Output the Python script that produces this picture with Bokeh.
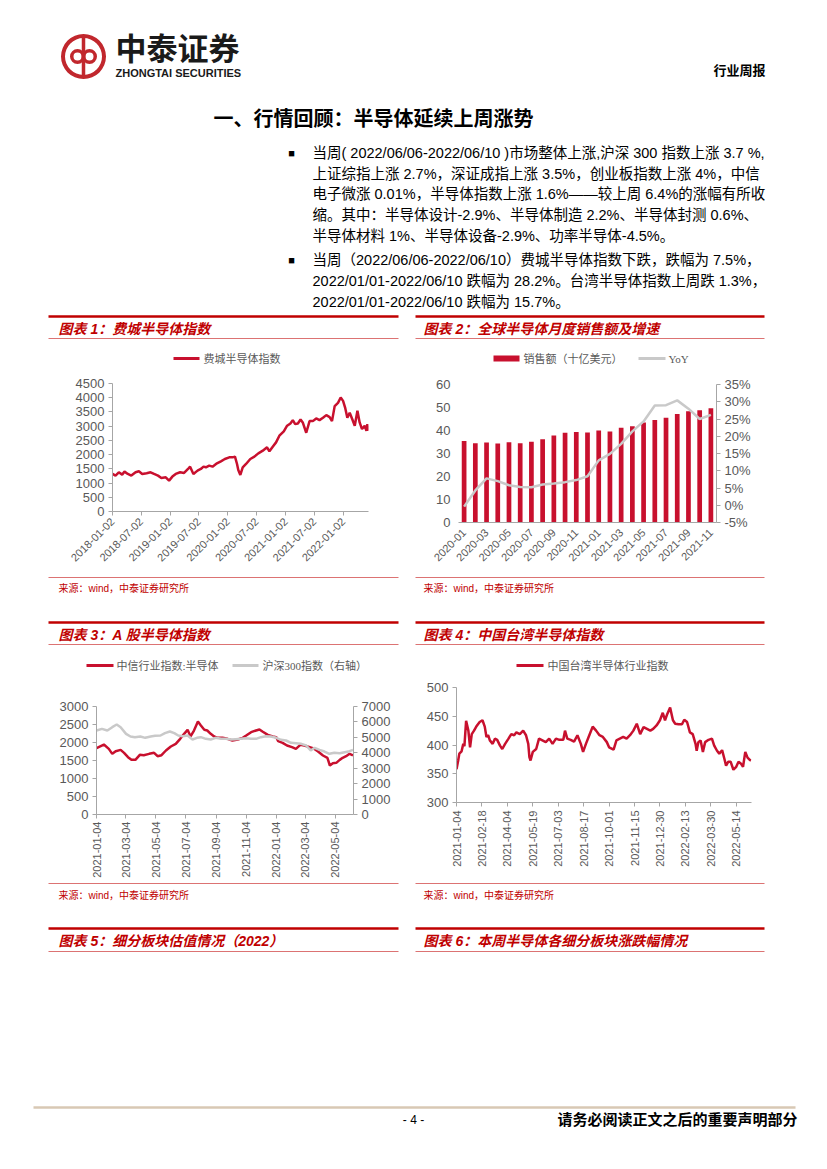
import pandas as pd
from math import pi
from bokeh.plotting import figure
from bokeh.layouts import column, row
from bokeh.models import (Range1d, LinearAxis, FixedTicker, DatetimeTickFormatter,
                          PrintfTickFormatter)
from bokeh.core.properties import value
from bokeh.embed import file_html
from bokeh.resources import INLINE

# ---------------- data ----------------
c1_dates = ["2018-01-02","2018-01-21","2018-02-11","2018-03-04","2018-03-19","2018-04-09","2018-05-01",
            "2018-05-28","2018-06-18","2018-07-09","2018-08-06","2018-08-31","2018-09-22","2018-10-17",
            "2018-11-07","2018-12-05","2018-12-26",
            "2019-01-16","2019-02-06","2019-03-06","2019-03-31","2019-04-25","2019-05-08","2019-05-29",
            "2019-06-24","2019-07-15","2019-08-01","2019-08-16","2019-09-06","2019-09-27","2019-10-25",
            "2019-11-19","2019-12-14",
            "2020-01-11","2020-02-01","2020-02-16","2020-02-29","2020-03-08","2020-03-21","2020-04-05",
            "2020-04-26","2020-05-23","2020-06-18","2020-07-13","2020-08-10","2020-09-06","2020-09-21",
            "2020-10-12","2020-11-02","2020-11-23","2020-12-21",
            "2021-01-11","2021-02-01","2021-02-16","2021-03-03","2021-03-20","2021-04-06","2021-04-21",
            "2021-05-12","2021-06-02","2021-06-23","2021-07-14","2021-08-04","2021-08-26","2021-09-16",
            "2021-10-07","2021-10-22","2021-11-08","2021-11-29","2021-12-16","2021-12-31",
            "2022-01-14","2022-01-27","2022-02-11","2022-02-28","2022-03-15","2022-04-01","2022-04-15",
            "2022-04-30","2022-05-17","2022-05-28","2022-06-03","2022-06-10"]
c1_values = [1320,1262,1379,1297,1402,1320,1262,1379,1414,1320,1344,1379,1320,1262,1180,1203,1086,
             1227,1320,1379,1355,1495,1577,1320,1437,1495,1577,1554,1612,1577,1694,1764,1846,
             1904,1904,1928,1671,1460,1285,1554,1671,1846,1928,2045,2138,2255,2115,2278,2430,2664,2816,
             3015,3096,3213,3072,3096,3236,3119,2768,3178,3178,3271,3213,3294,3388,3318,3178,3704,3820,4007,3890,
             3633,3294,3470,3236,3015,3540,3131,2898,3015,2840,3072,2840]
c1_ticks = ["2018-01-02","2018-07-02","2019-01-02","2019-07-02","2020-01-02","2020-07-02",
            "2021-01-02","2021-07-02","2022-01-02"]

c2_months = ["2020-01","2020-02","2020-03","2020-04","2020-05","2020-06","2020-07","2020-08","2020-09",
             "2020-10","2020-11","2020-12","2021-01","2021-02","2021-03","2021-04","2021-05","2021-06",
             "2021-07","2021-08","2021-09","2021-10","2021-11"]
c2_sales = [35.4,34.5,34.8,34.3,34.9,34.5,35.1,36.2,37.8,39.0,39.4,39.1,40.0,39.6,41.2,41.9,43.5,44.6,
            45.5,47.2,48.4,48.8,49.7]
c2_yoy = [-0.4,4.3,7.8,7.0,5.8,5.3,5.2,6.0,6.3,6.7,7.3,8.4,13.0,14.9,17.8,21.4,24.3,28.9,29.0,30.4,
          28.0,25.0,26.2]

c3_dates = ["2021-01-04","2021-01-19","2021-01-29","2021-02-05","2021-02-12","2021-02-22","2021-03-01",
            "2021-03-09","2021-03-16","2021-03-24","2021-04-02","2021-04-10","2021-04-21","2021-05-01",
            "2021-05-08","2021-05-16","2021-05-25","2021-06-04","2021-06-14","2021-06-23","2021-07-01",
            "2021-07-08","2021-07-14","2021-07-21","2021-07-29","2021-08-04","2021-08-11","2021-08-17",
            "2021-08-24","2021-08-31","2021-09-07","2021-09-17","2021-09-27","2021-10-07","2021-10-18",
            "2021-10-28","2021-11-04","2021-11-14","2021-11-24","2021-12-01","2021-12-07","2021-12-18",
            "2021-12-28","2022-01-04","2022-01-08","2022-01-17","2022-01-26","2022-02-05","2022-02-13",
            "2022-02-22","2022-03-02","2022-03-13","2022-03-21","2022-03-30","2022-04-09","2022-04-18",
            "2022-04-23","2022-04-29","2022-05-06","2022-05-13","2022-05-19","2022-05-26","2022-06-02",
            "2022-06-09"]
c3_semi = [1843,1944,1824,1685,1759,1796,1713,1593,1518,1518,1657,1648,1685,1713,1620,1648,1778,1889,
           1963,2102,2241,2352,2167,2333,2583,2472,2352,2333,2241,2167,2130,2130,2102,2056,2083,2130,
           2194,2287,2333,2361,2306,2213,2167,2148,2037,1991,1917,1870,1824,1935,1917,1870,1833,1750,
           1639,1574,1361,1426,1435,1518,1574,1620,1685,1639]
c3_hs_dates = ["2021-01-04","2021-01-15","2021-01-26","2021-02-05","2021-02-14","2021-02-22","2021-03-05",
               "2021-03-14","2021-03-23","2021-04-03","2021-04-13","2021-04-24","2021-05-03","2021-05-14",
               "2021-05-23","2021-06-02","2021-06-11","2021-06-19","2021-06-28","2021-07-08","2021-07-18",
               "2021-07-27","2021-08-04","2021-08-14","2021-08-24","2021-09-03","2021-09-14","2021-09-24",
               "2021-10-04","2021-10-14","2021-10-24","2021-11-03","2021-11-14","2021-11-24","2021-12-04",
               "2021-12-14","2021-12-24","2022-01-04","2022-01-14","2022-01-24","2022-02-03","2022-02-13",
               "2022-02-24","2022-03-06","2022-03-15","2022-03-23","2022-04-02","2022-04-12","2022-04-22",
               "2022-05-02","2022-05-13","2022-05-23","2022-06-02","2022-06-09"]
c3_hs300 = [5444,5552,5444,5660,5833,5660,5228,5055,5012,5055,4969,5055,5098,5120,5271,5379,5271,5120,
            5077,5120,4861,4969,5012,4904,4861,4969,4904,4904,4861,4883,4904,4947,4904,4904,5012,5077,
            5055,4969,4839,4796,4645,4623,4580,4472,4148,4321,4191,4083,3932,3997,3975,4040,4105,4191]
c3_ticks = ["2021-01-04","2021-03-04","2021-05-04","2021-07-04","2021-09-04","2021-11-04",
            "2022-01-04","2022-03-04","2022-05-04"]

c4_dates = ["2021-01-04","2021-01-07","2021-01-09","2021-01-13","2021-01-16","2021-01-18","2021-01-21",
            "2021-01-25","2021-01-28","2021-01-31","2021-02-04","2021-02-08","2021-02-14","2021-02-19",
            "2021-02-23","2021-02-26","2021-03-01","2021-03-04","2021-03-09","2021-03-13","2021-03-17",
            "2021-03-22","2021-03-26","2021-03-31","2021-04-06","2021-04-11","2021-04-16","2021-04-20",
            "2021-04-26","2021-05-02","2021-05-07","2021-05-11","2021-05-13","2021-05-15","2021-05-19",
            "2021-05-25","2021-05-30","2021-06-05","2021-06-11","2021-06-17","2021-06-23","2021-06-29",
            "2021-07-05","2021-07-12","2021-07-15","2021-07-19","2021-07-25","2021-07-31","2021-08-06",
            "2021-08-12","2021-08-16","2021-08-21","2021-08-27","2021-09-02","2021-09-08","2021-09-14",
            "2021-09-20","2021-09-27","2021-10-01","2021-10-09","2021-10-14","2021-10-20","2021-10-26",
            "2021-11-01","2021-11-07","2021-11-13","2021-11-19","2021-11-25","2021-12-01","2021-12-07",
            "2021-12-13","2021-12-18","2021-12-24","2021-12-30","2022-01-04","2022-01-08","2022-01-12",
            "2022-01-17","2022-01-22","2022-01-26","2022-02-01","2022-02-07","2022-02-11","2022-02-16",
            "2022-02-21","2022-02-26","2022-03-03","2022-03-05","2022-03-08","2022-03-12","2022-03-16",
            "2022-03-20","2022-03-26","2022-04-01","2022-04-05","2022-04-10","2022-04-14","2022-04-19",
            "2022-04-23","2022-04-26","2022-04-30","2022-05-04","2022-05-09","2022-05-14","2022-05-18",
            "2022-05-22","2022-05-26","2022-05-30","2022-06-03","2022-06-07","2022-06-09"]
c4_values = [358,373,385,389,402,398,442,425,396,419,425,432,440,443,432,414,417,408,402,411,409,
             399,393,402,411,419,417,422,419,425,417,402,379,373,388,393,411,408,405,411,402,411,
             409,409,425,411,409,406,417,402,388,402,417,432,425,417,414,405,396,392,408,411,414,
             411,417,425,437,419,431,428,425,428,434,443,456,443,454,465,443,437,436,436,444,440,
             422,419,402,390,405,408,388,405,409,411,399,390,385,391,376,364,371,371,357,362,371,
             368,362,388,378,374,373]
c4_ticks = ["2021-01-04","2021-02-18","2021-04-04","2021-05-19","2021-07-03","2021-08-17","2021-10-01",
            "2021-11-15","2021-12-30","2022-02-13","2022-03-30","2022-05-14"]

body_lines = [
    "当周( 2022/06/06-2022/06/10 )市场整体上涨,沪深 300 指数上涨 3.7 %,",
    "上证综指上涨 2.7%，深证成指上涨 3.5%，创业板指数上涨 4%，中信",
    "电子微涨 0.01%，半导体指数上涨 1.6%——较上周 6.4%的涨幅有所收",
    "缩。其中：半导体设计-2.9%、半导体制造 2.2%、半导体封测 0.6%、",
    "半导体材料 1%、半导体设备-2.9%、功率半导体-4.5%。",
    "当周（2022/06/06-2022/06/10）费城半导体指数下跌，跌幅为 7.5%，",
    "2022/01/01-2022/06/10 跌幅为 28.2%。台湾半导体指数上周跌 1.3%，",
    "2022/01/01-2022/06/10 跌幅为 15.7%。",
]

# ---------------- styles ----------------
RED = "#C8102E"
TRED = "#C00000"
GRAY = "#C9C9C9"
AXC = "#A6A6A6"
TXC = "#595959"
SANS = "'Liberation Sans', 'Noto Sans CJK SC'"
SERIF = "'Liberation Serif', 'Noto Sans CJK SC'"
SOURCE = "来源：wind，中泰证券研究所"


def ms(lst):
    return [pd.Timestamp(s).value / 1e6 for s in lst]


def canvas(w, h):
    return figure(width=w, height=h, x_range=Range1d(0, w), y_range=Range1d(h, 0),
                  x_axis_type=None, y_axis_type=None, output_backend="svg",
                  toolbar_location=None, min_border=0, outline_line_color=None)


def T(p, x, y, s, size, color="#000000", font=SANS, style="normal", align="left"):
    p.text(x=[x], y=[y], text=[s], text_font=value(font), text_font_size=size,
           text_color=color, text_font_style=style, text_align=align, text_baseline="middle")


def L(p, x0, x1, y0, y1, color, w, alpha=1.0):
    p.segment(x0=[x0], y0=[y0], x1=[x1], y1=[y1], line_color=color, line_width=w, line_alpha=alpha)


def chart(w, h, l, r, t, b, xr, yr, xtype="linear"):
    p = figure(width=w, height=h, x_range=xr, y_range=yr, x_axis_type=xtype,
               output_backend="svg", toolbar_location=None, min_border_left=l,
               min_border_right=r, min_border_top=t, min_border_bottom=b,
               outline_line_color=None)
    p.grid.visible = False
    return p


def sty(ax, size="13px", line=True, ticks=True):
    ax.axis_line_color = AXC if line else None
    ax.major_tick_line_color = AXC if ticks else None
    ax.major_tick_out = 4
    ax.major_tick_in = 0
    ax.minor_tick_line_color = None
    ax.major_label_text_color = TXC
    ax.major_label_text_font = "Liberation Sans"
    ax.major_label_text_font_size = size
    ax.major_label_standoff = 4


def dtf():
    f = DatetimeTickFormatter(days="%Y-%m-%d", months="%Y-%m-%d", years="%Y-%m-%d")
    try:
        f.strip_leading_zeros = False
    except Exception:
        pass
    return f


def top_strip(w, h, x0, x1, ytop, title, tx):
    p = canvas(w, h)
    L(p, x0, x1, ytop, ytop, TRED, 2.5)
    T(p, tx, ytop + 12, title, "14px", TRED, SANS, "bold italic")
    L(p, x0, x1, ytop + 22, ytop + 22, TRED, 1, 0.55)
    return p


def bottom_strip(w, h, x0, x1, yline, tx, ysrc):
    p = canvas(w, h)
    L(p, x0, x1, yline, yline, TRED, 1, 0.55)
    T(p, tx, ysrc, SOURCE, "10px", TRED, SANS)
    return p


# ---------------- header ----------------
hdr = canvas(827, 312)
hdr.annulus(x=[83], y=[56], inner_radius=18.5, outer_radius=22.5, fill_color="#C1272D", line_color=None)
hdr.annulus(x=[77, 89], y=[56, 56], inner_radius=4, outer_radius=7.5, fill_color="#C1272D", line_color=None)
L(hdr, 83, 83, 36, 76, "#C1272D", 3.5)
T(hdr, 115, 49, "中泰证券", "31px", "#1A1A1A", SANS, "bold")
T(hdr, 115, 72, "ZHONGTAI SECURITIES", "11px", "#1A1A1A", SANS, "bold")
T(hdr, 765, 70, "行业周报", "13px", "#000000", SANS, "bold", "right")
T(hdr, 213, 118, "一、行情回顾：半导体延续上周涨势", "20px", "#000000", SANS, "bold")
line_y = [152, 173, 193, 214, 235, 259, 280, 301]
for s, yy in zip(body_lines, line_y):
    T(hdr, 312, yy, s, "14.5px", "#000000", SANS)
T(hdr, 291, 152, "■", "11px", "#000000", SANS, "normal", "center")
T(hdr, 291, 259, "■", "11px", "#000000", SANS, "normal", "center")

# ---------------- chart 1 ----------------
s1t = top_strip(410, 58, 48, 398, 4, "图表 1：费城半导体指数", 58)
L(s1t, 173, 199, 46, 46, RED, 3)
T(s1t, 203, 46, "费城半导体指数", "11px", TXC, SERIF)

c1 = chart(410, 202, 112, 42, 13, 61,
           Range1d(pd.Timestamp(c1_dates[0]), pd.Timestamp(c1_dates[-1])), Range1d(0, 4500), "datetime")
c1.line(pd.to_datetime(c1_dates), c1_values, line_color=RED, line_width=2.5)
xa = c1.xaxis[0]
xa.ticker = FixedTicker(ticks=ms(c1_ticks))
xa.formatter = dtf()
xa.major_label_orientation = pi / 4
sty(xa, "11px")
ya = c1.yaxis[0]
ya.ticker = FixedTicker(ticks=list(range(0, 4501, 500)))
sty(ya)
s1b = bottom_strip(410, 33, 48, 398, 5, 58, 16)

# ---------------- chart 2 ----------------
s2t = top_strip(417, 58, 5, 354, 4, "图表 2：全球半导体月度销售额及增速", 13)
s2t.quad(left=[83], right=[109], top=[43], bottom=[49], fill_color=RED, line_color=None)
T(s2t, 113, 46, "销售额（十亿美元）", "11px", TXC, SERIF)
L(s2t, 228, 255, 46, 46, GRAY, 3)
T(s2t, 258, 46, "YoY", "11px", TXC, SERIF)

xi = list(range(len(c2_months)))
c2 = chart(417, 202, 48, 111, 14, 50, Range1d(-0.5, len(c2_months) - 0.5), Range1d(0, 60))
c2.extra_y_ranges = {"yoy": Range1d(-5, 35)}
c2.vbar(x=xi, top=c2_sales, width=0.42, fill_color=RED, line_color=None)
c2.line(xi, c2_yoy, y_range_name="yoy", line_color=GRAY, line_width=2.5)
xa = c2.xaxis[0]
xa.ticker = FixedTicker(ticks=xi[::2])
xa.major_label_overrides = {i: c2_months[i] for i in xi[::2]}
xa.major_label_orientation = pi / 4
sty(xa, "11px", True, False)
ya = c2.yaxis[0]
ya.ticker = FixedTicker(ticks=list(range(0, 61, 10)))
sty(ya, "13px", False, False)
ra = LinearAxis(y_range_name="yoy", ticker=FixedTicker(ticks=list(range(-5, 36, 5))),
                formatter=PrintfTickFormatter(format="%d%%"))
sty(ra)
c2.add_layout(ra, "right")
s2b = bottom_strip(417, 33, 5, 354, 5, 13, 16)

# ---------------- chart 3 ----------------
s3t = top_strip(410, 90, 48, 398, 17, "图表 3：A 股半导体指数", 58)
L(s3t, 86, 113, 60, 60, RED, 3)
T(s3t, 116, 60, "中信行业指数:半导体", "11px", TXC, SERIF)
L(s3t, 232, 258, 60, 60, GRAY, 3)
T(s3t, 262, 60, "沪深300指数（右轴）", "11px", TXC, SERIF)

c3 = chart(410, 185, 96, 57, 11, 66,
           Range1d(pd.Timestamp(c3_dates[0]), pd.Timestamp("2022-06-10")), Range1d(0, 3000), "datetime")
c3.extra_y_ranges = {"hs": Range1d(0, 7000)}
c3.line(pd.to_datetime(c3_dates), c3_semi, line_color=RED, line_width=2.5)
c3.line(pd.to_datetime(c3_hs_dates), c3_hs300, y_range_name="hs", line_color=GRAY, line_width=2.5)
xa = c3.xaxis[0]
xa.ticker = FixedTicker(ticks=ms(c3_ticks))
xa.formatter = dtf()
xa.major_label_orientation = pi / 2
sty(xa, "11px")
xa.major_label_standoff = 3
ya = c3.yaxis[0]
ya.ticker = FixedTicker(ticks=list(range(0, 3001, 500)))
sty(ya)
ra = LinearAxis(y_range_name="hs", ticker=FixedTicker(ticks=list(range(0, 7001, 1000))))
sty(ra)
c3.add_layout(ra, "right")
s3b = bottom_strip(410, 25, 48, 398, 3, 58, 15)

# ---------------- chart 4 ----------------
s4t = top_strip(417, 75, 5, 354, 17, "图表 4：中国台湾半导体指数", 13)
L(s4t, 106, 133, 60, 60, RED, 3)
T(s4t, 137, 60, "中国台湾半导体行业指数", "11px", TXC, SERIF)

c4 = chart(417, 200, 46, 76, 7, 78,
           Range1d(pd.Timestamp(c4_dates[0]), pd.Timestamp("2022-06-10")), Range1d(300, 500), "datetime")
c4.line(pd.to_datetime(c4_dates), c4_values, line_color=RED, line_width=2.5)
xa = c4.xaxis[0]
xa.ticker = FixedTicker(ticks=ms(c4_ticks))
xa.formatter = dtf()
xa.major_label_orientation = pi / 2
sty(xa, "11px")
ya = c4.yaxis[0]
ya.ticker = FixedTicker(ticks=list(range(300, 501, 50)))
sty(ya)
s4b = bottom_strip(417, 25, 5, 354, 3, 13, 15)

# ---------------- footer ----------------
ftr = canvas(827, 264)
L(ftr, 48, 398, 23, 23, TRED, 2.5)
T(ftr, 58, 35, "图表 5：细分板块估值情况（2022）", "14px", TRED, SANS, "bold italic")
L(ftr, 48, 398, 46, 46, TRED, 1, 0.55)
L(ftr, 415, 764, 23, 23, TRED, 2.5)
T(ftr, 423, 35, "图表 6：本周半导体各细分板块涨跌幅情况", "14px", TRED, SANS, "bold italic")
L(ftr, 415, 764, 46, 46, TRED, 1, 0.55)
L(ftr, 33, 795, 202, 202, "#D8C8B4", 2.5)
T(ftr, 413, 214, "- 4 -", "12px", "#000000", SANS, "normal", "center")
T(ftr, 797, 214, "请务必阅读正文之后的重要声明部分", "15px", "#000000", SANS, "bold", "right")

# wrap strip figures in their own rows so their frames are not aligned with the charts
left1 = column(row(s1t), c1, row(s1b), spacing=0)
right1 = column(row(s2t), c2, row(s2b), spacing=0)
left2 = column(row(s3t), c3, row(s3b), spacing=0)
right2 = column(row(s4t), c4, row(s4b), spacing=0)

page = column(
    hdr,
    row(left1, right1, spacing=0),
    row(left2, right2, spacing=0),
    ftr,
    spacing=0,
)

open("out.html", "w").write(file_html(page, INLINE))
